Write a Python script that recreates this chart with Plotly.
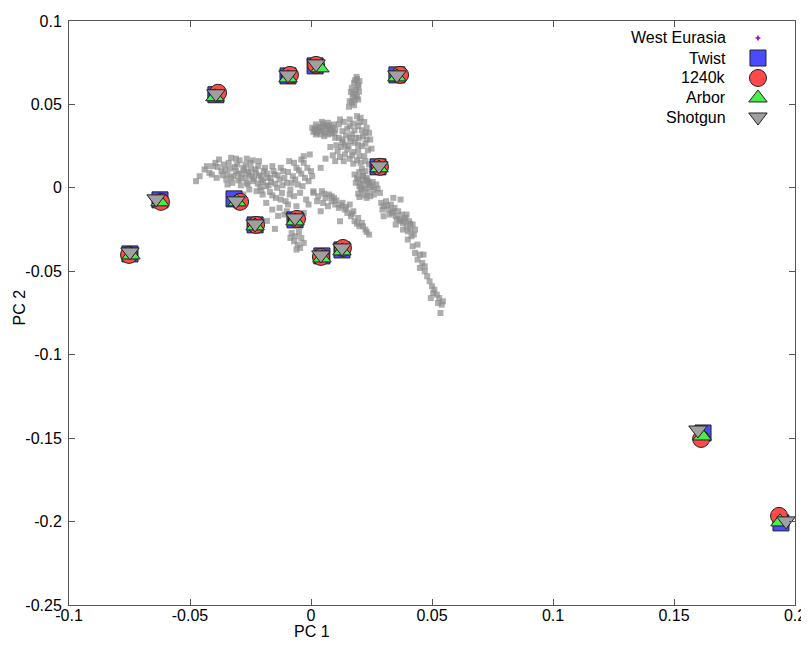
import plotly.graph_objects as go

# ---------------- data ----------------
# West Eurasia reference cloud (PC1, PC2), read off the picture region by region
we_top_x = [0.0190, 0.0178, 0.0194, 0.0169, 0.0186, 0.0198, 0.0174, 0.0190, 0.0182, 0.0169, 0.0157,
            0.0182, 0.0196, 0.0165, 0.0184, 0.0172, 0.0195, 0.0160, 0.0178, 0.0200, 0.0188]
we_top_y = [0.0653, 0.0630, 0.0618, 0.0600, 0.0588, 0.0576, 0.0564, 0.0546, 0.0528, 0.0510, 0.0486,
            0.0645, 0.0605, 0.0575, 0.0560, 0.0540, 0.0530, 0.0520, 0.0495, 0.0640, 0.0665]

we_blob_x = [0.0015, 0.0030, 0.0045, 0.0055, 0.0065, 0.0080, 0.0025, 0.0040, 0.0060, 0.0075, 0.0090, 0.0010, 0.0050,
             0.0085, 0.0035, 0.0020, 0.0045, 0.0070, 0.0095, 0.0100, 0.0005, 0.0020, 0.0055, 0.0070, 0.0095, 0.0040,
             0.0065, 0.0018, 0.0080]
we_blob_y = [0.0350, 0.0365, 0.0340, 0.0370, 0.0355, 0.0345, 0.0330, 0.0320, 0.0330, 0.0375, 0.0360, 0.0335, 0.0385,
             0.0325, 0.0350, 0.0380, 0.0395, 0.0390, 0.0380, 0.0345, 0.0360, 0.0320, 0.0310, 0.0320, 0.0330, 0.0360,
             0.0368, 0.0345, 0.0358]

we_upper_x = [0.0120, 0.0190, 0.0200, 0.0150, 0.0170, 0.0200, 0.0230, 0.0130, 0.0080, 0.0110, 0.0150, 0.0175, 0.0200,
              0.0060, 0.0120, 0.0160, 0.0190, 0.0225, 0.0210, 0.0215, 0.0235, 0.0205, 0.0225, 0.0140, 0.0180, 0.0210,
              0.0100, 0.0160, 0.0140, 0.0100, 0.0240, 0.0230, 0.0180, 0.0210, 0.0250, 0.0195, 0.0125, 0.0090, 0.0040,
              -0.0005, -0.0030,
              0.0115, 0.0135, 0.0160, 0.0175, 0.0205, 0.0220, 0.0160, 0.0195, 0.0225, 0.0130, 0.0145, 0.0185, 0.0215,
              0.0245, 0.0115, 0.0130, 0.0165, 0.0195, 0.0225, 0.0105, 0.0155, 0.0235, 0.0170, 0.0220, 0.0135, 0.0175,
              0.0205, 0.0240, 0.0225, 0.0200, 0.0230, 0.0195]
we_upper_y = [0.0410, 0.0430, 0.0395, 0.0355, 0.0320, 0.0300, 0.0290, 0.0275, 0.0245, 0.0220, 0.0230, 0.0215, 0.0190,
              0.0175, 0.0185, 0.0175, 0.0165, 0.0160, 0.0115, 0.0075, 0.0040, 0.0025, -0.0005, 0.0260, 0.0270, 0.0250,
              0.0300, 0.0300, 0.0200, 0.0160, 0.0330, 0.0360, 0.0345, 0.0345, 0.0235, 0.0225, 0.0245, 0.0195, 0.0120,
              0.0200, 0.0190,
              0.0380, 0.0395, 0.0410, 0.0385, 0.0420, 0.0395, 0.0370, 0.0370, 0.0330, 0.0340, 0.0315, 0.0300, 0.0310,
              0.0290, 0.0300, 0.0290, 0.0280, 0.0260, 0.0265, 0.0255, 0.0250, 0.0225, 0.0195, 0.0190, 0.0160, 0.0145,
              0.0150, 0.0140, 0.0100, 0.0095, 0.0060, 0.0050]

we_mid_x = [0.0190, 0.0215, 0.0240, 0.0200, 0.0225, 0.0250, 0.0210, 0.0235, 0.0260, 0.0195, 0.0220, 0.0245, 0.0270,
            0.0180, 0.0285, 0.0185, 0.0205, 0.0230, 0.0255, 0.0275, 0.0230, 0.0200, 0.0260, 0.0215, 0.0245]
we_mid_y = [0.0060, 0.0045, 0.0030, 0.0010, 0.0015, 0.0005, -0.0015, -0.0025, -0.0010, -0.0035, -0.0045, -0.0050, 0.0020,
            0.0080, -0.0030, 0.0030, -0.0005, 0.0050, 0.0035, -0.0005, -0.0060, -0.0055, -0.0040, 0.0070, 0.0015]

we_left_x = [-0.0440, -0.0420, -0.0405, -0.0390, -0.0370, -0.0360, -0.0350, -0.0345, -0.0335, -0.0325, -0.0320, -0.0310,
             -0.0305, -0.0300, -0.0290, -0.0285, -0.0280, -0.0270, -0.0265, -0.0260, -0.0255, -0.0250, -0.0245, -0.0240,
             -0.0230, -0.0225, -0.0220, -0.0215, -0.0205, -0.0200, -0.0195, -0.0185, -0.0180, -0.0170, -0.0165, -0.0160,
             -0.0150, -0.0145, -0.0140, -0.0130, -0.0120, -0.0115, -0.0105, -0.0100, -0.0090, -0.0085, -0.0075, -0.0070,
             -0.0060, -0.0055, -0.0045, -0.0040, -0.0030, -0.0020, -0.0010, 0.0000, 0.0010, -0.0460, -0.0475, -0.0380,
             -0.0330, -0.0280, -0.0185, -0.0130, -0.0100, -0.0060, -0.0136, -0.0149, -0.0182, -0.0160, -0.0110,
             -0.0385, -0.0365, -0.0355, -0.0340, -0.0330, -0.0315, -0.0300, -0.0295, -0.0290, -0.0275, -0.0270, -0.0262,
             -0.0255, -0.0248, -0.0240, -0.0235, -0.0228, -0.0218, -0.0210, -0.0205, -0.0198, -0.0190, -0.0182, -0.0175,
             -0.0168, -0.0155, -0.0148, -0.0138, -0.0125, -0.0118, -0.0110, -0.0095, -0.0088, -0.0080, -0.0065, -0.0050,
             -0.0035, -0.0025, -0.0015, 0.0005, -0.0160, -0.0125, -0.0095, -0.0205, -0.0345, -0.0410, -0.0430, -0.0395,
             -0.0310, -0.0265, -0.0215, -0.0070, -0.0040]
we_left_y = [0.0110, 0.0090, 0.0130, 0.0060, 0.0100, 0.0140, 0.0050, 0.0080, 0.0115, 0.0030, 0.0070, 0.0100,
             0.0140, 0.0045, 0.0015, 0.0085, 0.0120, 0.0060, 0.0030, 0.0095, -0.0010, 0.0150, 0.0070, 0.0040,
             0.0110, -0.0020, 0.0025, 0.0075, 0.0045, -0.0040, 0.0100, 0.0010, 0.0060, -0.0025, 0.0035, 0.0130,
             0.0080, -0.0060, 0.0000, 0.0050, -0.0030, 0.0100, -0.0080, 0.0030, 0.0160, -0.0010, 0.0070, -0.0050,
             0.0120, 0.0020, -0.0030, 0.0085, 0.0150, -0.0070, 0.0040, 0.0100, -0.0020, 0.0070, 0.0040, 0.0170,
             0.0180, -0.0040, -0.0090, -0.0120, -0.0140, -0.0110, -0.0168, -0.0246, -0.0198, -0.0130, -0.0160,
             0.0125, 0.0075, 0.0110, 0.0150, 0.0060, 0.0125, 0.0085, 0.0165, 0.0055, 0.0105, 0.0140, 0.0020,
             0.0080, 0.0115, 0.0165, 0.0055, 0.0090, 0.0130, 0.0005, 0.0070, 0.0035, 0.0120, 0.0085, 0.0015,
             0.0060, 0.0100, 0.0025, 0.0075, 0.0120, 0.0015, 0.0060, 0.0095, -0.0040, 0.0030, 0.0050, 0.0105,
             0.0010, 0.0060, 0.0120, 0.0070, -0.0045, -0.0070, -0.0100, -0.0015, 0.0020, 0.0080, 0.0130, 0.0150,
             0.0175, 0.0175, 0.0160, 0.0150, 0.0170]

we_low_x = [-0.0080, -0.0065, -0.0050, -0.0070, -0.0055, -0.0040, -0.0030, -0.0060, -0.0085, -0.0045,
            0.0010, 0.0030, 0.0045, 0.0060, 0.0050, 0.0075, 0.0085, 0.0100, 0.0095, 0.0115, 0.0130, 0.0140, 0.0150,
            0.0165, 0.0175, 0.0180, 0.0195, 0.0200, 0.0210, 0.0225, 0.0240, 0.0120, 0.0070, 0.0040, 0.0160, -0.0010,
            -0.0030, 0.0055, 0.0085, 0.0105, 0.0125, 0.0145, 0.0170, 0.0190, 0.0215, 0.0230, 0.0025]
we_low_y = [-0.0270, -0.0290, -0.0265, -0.0320, -0.0340, -0.0300, -0.0330, -0.0370, -0.0300, -0.0360,
            -0.0030, -0.0050, -0.0020, -0.0060, -0.0090, -0.0040, -0.0080, -0.0100, -0.0060, -0.0120, -0.0090, -0.0130,
            -0.0150, -0.0170, -0.0140, -0.0200, -0.0180, -0.0230, -0.0210, -0.0250, -0.0280, -0.0200, -0.0110, -0.0140,
            -0.0100, -0.0100, -0.0150, -0.0035, -0.0050, -0.0075, -0.0105, -0.0115, -0.0155, -0.0215, -0.0230, -0.0265,
            -0.0080]

we_right_x = [0.0290, 0.0300, 0.0310, 0.0320, 0.0330, 0.0335, 0.0345, 0.0350, 0.0360, 0.0365, 0.0375, 0.0380, 0.0390,
              0.0395, 0.0405, 0.0410, 0.0420, 0.0425, 0.0340, 0.0370, 0.0300, 0.0350, 0.0380, 0.0400, 0.0420, 0.0440,
              0.0430, 0.0450, 0.0440, 0.0460, 0.0450, 0.0470, 0.0480, 0.0490, 0.0500, 0.0510, 0.0520, 0.0530, 0.0525,
              0.0540, 0.0545, 0.0535, 0.0495,
              0.0295, 0.0315, 0.0325, 0.0340, 0.0355, 0.0370, 0.0385, 0.0395, 0.0410, 0.0400, 0.0430, 0.0415, 0.0465,
              0.0470, 0.0505]
we_right_y = [-0.0090, -0.0110, -0.0080, -0.0130, -0.0100, -0.0150, -0.0120, -0.0170, -0.0140, -0.0190, -0.0160, -0.0210,
              -0.0180, -0.0230, -0.0200, -0.0250, -0.0220, -0.0280, -0.0060, -0.0070, -0.0170, -0.0220, -0.0250, -0.0310,
              -0.0350, -0.0340, -0.0390, -0.0400, -0.0430, -0.0450, -0.0480, -0.0500, -0.0530, -0.0560, -0.0590, -0.0610,
              -0.0640, -0.0660, -0.0690, -0.0700, -0.0680, -0.0750, -0.0660,
              -0.0130, -0.0105, -0.0160, -0.0140, -0.0185, -0.0200, -0.0195, -0.0160, -0.0215, -0.0260, -0.0250, -0.0290,
              -0.0400, -0.0470, -0.0630]

# Ancient samples processed with four capture/sequencing strategies
twist_x = [-0.0748, -0.0624, -0.0393, -0.0318, -0.0231, -0.0095, -0.0066, 0.0017, 0.0045, 0.0128, 0.0277, 0.0355, 0.1620, 0.1942]
twist_y = [-0.0396, -0.0072, 0.0558, -0.0066, -0.0222, 0.0671, -0.0192, 0.0731, -0.0408, -0.0372, 0.0126, 0.0677, -0.1469, -0.2008]

k1240_x = [-0.0752, -0.0620, -0.0384, -0.0293, -0.0227, -0.0087, -0.0058, 0.0021, 0.0041, 0.0132, 0.0285, 0.0368, 0.1612, 0.1934]
k1240_y = [-0.0402, -0.0084, 0.0570, -0.0084, -0.0222, 0.0677, -0.0186, 0.0737, -0.0414, -0.0360, 0.0126, 0.0677, -0.1505, -0.1966]

arbor_x = [-0.0744, -0.0624, -0.0397, -0.0306, -0.0231, -0.0095, -0.0066, 0.0037, 0.0045, 0.0128, 0.0281, 0.0355, 0.1616, 0.1938]
arbor_y = [-0.0402, -0.0084, 0.0546, -0.0084, -0.0228, 0.0659, -0.0198, 0.0719, -0.0420, -0.0378, 0.0120, 0.0665, -0.1487, -0.2002]

shotgun_x = [-0.0748, -0.0640, -0.0393, -0.0310, -0.0231, -0.0095, -0.0066, 0.0021, 0.0041, 0.0128, 0.0281, 0.0355, 0.1599, 0.1963]
shotgun_y = [-0.0384, -0.0066, 0.0564, -0.0078, -0.0216, 0.0677, -0.0180, 0.0743, -0.0402, -0.0360, 0.0132, 0.0677, -0.1451, -0.1996]

series_names = ["West Eurasia", "Twist", "1240k", "Arbor", "Shotgun"]

x_ticks = [-0.1, -0.05, 0, 0.05, 0.1, 0.15, 0.2]
x_tick_text = ["-0.1", "-0.05", "0", "0.05", "0.1", "0.15", "0.2"]
y_ticks = [-0.25, -0.2, -0.15, -0.1, -0.05, 0, 0.05, 0.1]
y_tick_text = ["-0.25", "-0.2", "-0.15", "-0.1", "-0.05", "0", "0.05", "0.1"]

we_x = we_top_x + we_blob_x + we_upper_x + we_mid_x + we_left_x + we_low_x + we_right_x
we_y = we_top_y + we_blob_y + we_upper_y + we_mid_y + we_left_y + we_low_y + we_right_y

# ---------------- styles ----------------
FONT = "Liberation Sans, Arial, sans-serif"
AXC = "#555555"
styles = {
    "West Eurasia": dict(symbol="cross", size=4, color="#9400d3", line=dict(width=0)),
    "Twist": dict(symbol="square", size=16, color="#4a4aff", line=dict(color="#222222", width=1)),
    "1240k": dict(symbol="circle", size=17, color="#ff4a4a", line=dict(color="#222222", width=1)),
    "Arbor": dict(symbol="triangle-up", size=16, color="#4aee4a", line=dict(color="#222222", width=1)),
    "Shotgun": dict(symbol="triangle-down", size=16, color="#a0a0a0", line=dict(color="#222222", width=1)),
}

fig = go.Figure()

fig.add_trace(go.Scatter(
    x=we_x, y=we_y, mode="markers", name="West Eurasia", showlegend=False,
    marker=dict(symbol="square", size=6, color="rgba(140,140,140,0.7)", line=dict(width=0)),
))
for name, xs, ys in [("Twist", twist_x, twist_y), ("1240k", k1240_x, k1240_y),
                     ("Arbor", arbor_x, arbor_y), ("Shotgun", shotgun_x, shotgun_y)]:
    fig.add_trace(go.Scatter(x=xs, y=ys, mode="markers", name=name, showlegend=False,
                             cliponaxis=False, marker=styles[name]))

# ---------------- custom legend (text left of key, gnuplot style) ----------------
leg_rows = [0.9709, 0.9366, 0.9024, 0.8682, 0.8356]
leg_text_x = 0.9077
leg_key_x = 0.949
for name, ry in zip(series_names, leg_rows):
    fig.add_annotation(xref="paper", yref="paper", x=leg_text_x, y=ry, text=name,
                       showarrow=False, xanchor="right", yanchor="middle",
                       font=dict(family=FONT, size=16, color="black"))
    fig.add_trace(go.Scatter(x=[leg_key_x], y=[ry], xaxis="x2", yaxis="y2", mode="markers",
                             showlegend=False, hoverinfo="skip", marker=styles[name]))

# axis titles
fig.add_annotation(xref="paper", yref="paper", x=0.335, y=-0.0462, text="PC 1", showarrow=False,
                   xanchor="center", yanchor="middle", font=dict(family=FONT, size=16, color="black"))
fig.add_annotation(xref="paper", yref="paper", x=-0.0685, y=0.51, text="PC 2", showarrow=False,
                   textangle=-90, xanchor="center", yanchor="middle",
                   font=dict(family=FONT, size=16, color="black"))

axis_common = dict(showgrid=False, zeroline=False, showline=True, linecolor=AXC, linewidth=1,
                   mirror="ticks", ticks="inside", ticklen=6, tickcolor=AXC, tickwidth=1,
                   automargin=False,
                   tickfont=dict(family=FONT, size=16, color="black"))

# the page body has an 8px margin, so the figure is 8px smaller than the window
fig.update_layout(
    width=801, height=638,
    margin=dict(l=61, r=14, t=13, b=41),
    paper_bgcolor="white", plot_bgcolor="white",
    showlegend=False,
    xaxis=dict(range=[-0.1, 0.2], tickvals=x_ticks, ticktext=x_tick_text, ticklabelstandoff=-4, **axis_common),
    yaxis=dict(range=[-0.25, 0.1], tickvals=y_ticks, ticktext=y_tick_text, ticklabelstandoff=3, **axis_common),
    xaxis2=dict(range=[0, 1], overlaying="x", visible=False, fixedrange=True),
    yaxis2=dict(range=[0, 1], overlaying="y", visible=False, fixedrange=True),
)

fig.write_html("out.html")
